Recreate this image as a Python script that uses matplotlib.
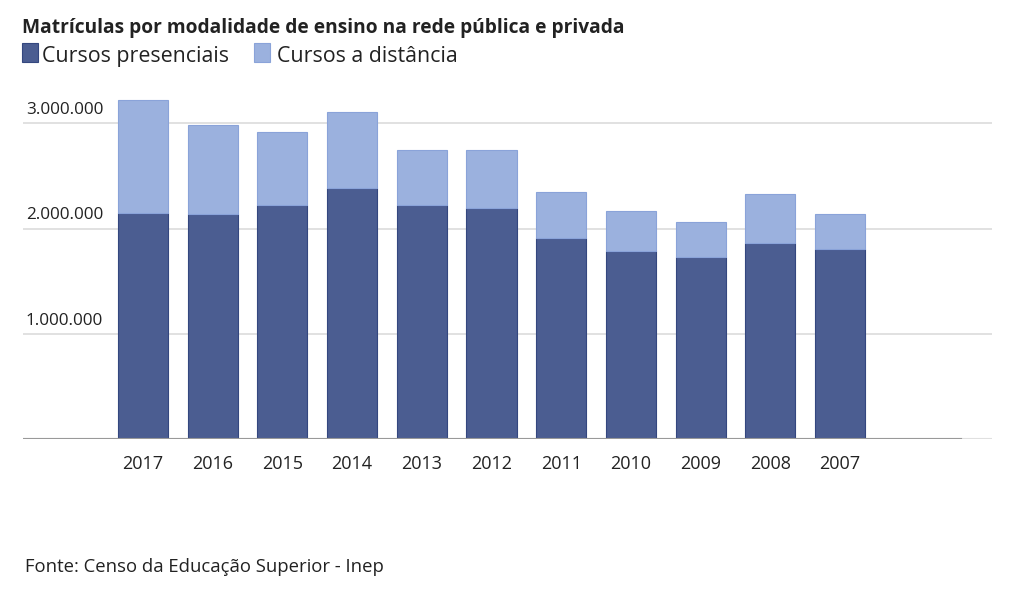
import numpy as np
import matplotlib.pyplot as plt
from matplotlib.transforms import blended_transform_factory

plt.rcParams['font.family'] = ['Open Sans', 'DejaVu Sans']

anos = ['2017', '2016', '2015', '2014', '2013', '2012', '2011', '2010', '2009', '2008', '2007']
presenciais = [2152752, 2142463, 2225663, 2383110, 2227545, 2199000, 1912000, 1790000, 1733000, 1864000, 1807000]
distancia = [1073497, 843181, 694559, 727738, 515405, 545000, 434000, 378000, 333000, 466000, 333000]
yticks = [1000000, 2000000, 3000000]
ytick_labels = ['1.000.000', '2.000.000', '3.000.000']

escuro = '#4b5d91'
claro = '#9bb1de'

fig = plt.figure(figsize=(10.24, 6), dpi=100)
ax = fig.add_axes([23/1024, 1 - 439.3/600, (992 - 23)/1024, (439.3 - 91.8)/600])

x = np.arange(len(anos))
ax.bar(x, presenciais, width=0.72, color=escuro, edgecolor='#34477f', linewidth=0.8, zorder=3)
ax.bar(x, distancia, bottom=presenciais, width=0.72, color=claro, edgecolor='#8aa3d9',
       linewidth=0.8, zorder=3)

ax.set_xlim((23 - 143)/69.7, (992 - 143)/69.7)
ax.set_ylim(0, 3300000)

for t in yticks:
    ax.axhline(t, color='#dcdcdc', linewidth=1.2, zorder=1)
ax.axhline(0, color='#e0e0e0', linewidth=1.5, zorder=1)
ax.axhline(0, xmin=0, xmax=(961 - 23)/(992 - 23), color='#999999', linewidth=1.5, zorder=4)

tr = blended_transform_factory(ax.transAxes, ax.transData)
for t, lab in zip(yticks, ytick_labels):
    ax.text(0.003, t + 50000, lab, transform=tr, ha='left', va='bottom',
            fontsize=12.3, color='#222222')

ax.set_xticks(x)
ax.set_xticklabels(anos, fontsize=13, color='#222222')
ax.tick_params(axis='x', length=0, pad=11)
ax.set_yticks([])
for s in ax.spines.values():
    s.set_visible(False)

fig.text(22/1024, 1 - 33/600, 'Matrículas por modalidade de ensino na rede pública e privada',
         fontsize=13.75, fontweight='bold', color='#222222', ha='left', va='baseline')

# legenda
fig.patches.append(plt.Rectangle((22/1024, 1 - 62/600), 16/1024, 19/600, transform=fig.transFigure,
                                 facecolor=escuro, edgecolor='#34477f', linewidth=0.8))
fig.text(42/1024, 1 - 62/600, 'Cursos presenciais', fontsize=15.4, color='#222222',
         ha='left', va='baseline')
fig.patches.append(plt.Rectangle((254/1024, 1 - 62/600), 16/1024, 19/600, transform=fig.transFigure,
                                 facecolor=claro, edgecolor='#8aa3d9', linewidth=0.8))
fig.text(277/1024, 1 - 62/600, 'Cursos a distância', fontsize=15.4, color='#222222',
         ha='left', va='baseline')

fig.text(25/1024, 1 - 572/600, 'Fonte: Censo da Educação Superior - Inep', fontsize=13.3,
         color='#222222', ha='left', va='baseline')

fig.savefig('out.png', dpi=100, facecolor='white')
